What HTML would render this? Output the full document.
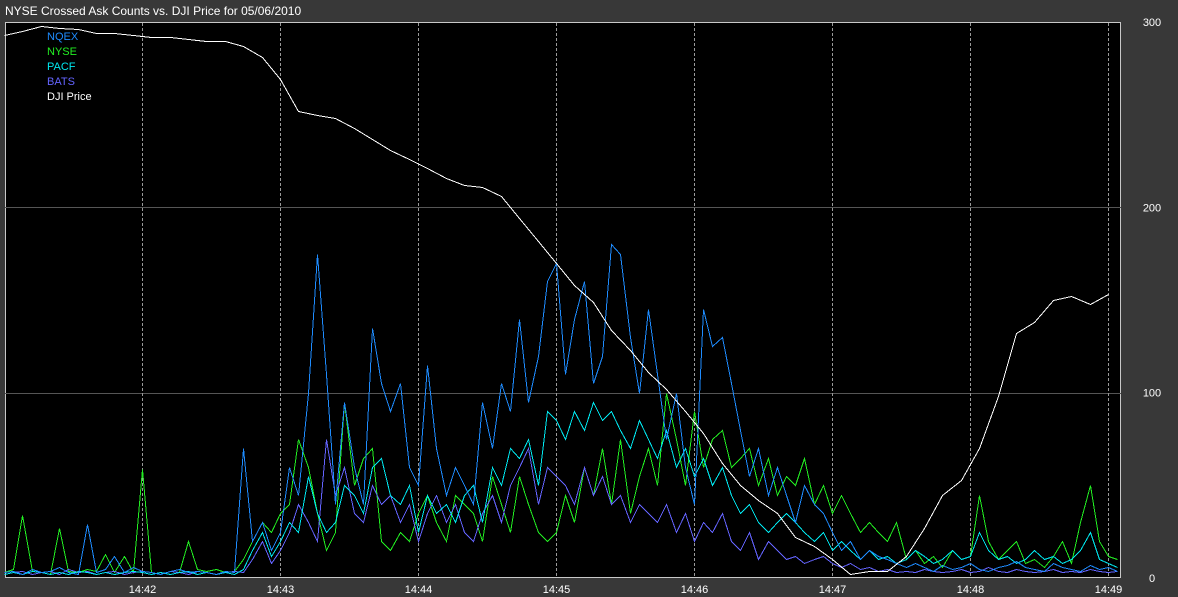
<!DOCTYPE html>
<html><head><meta charset="utf-8"><style>
html,body{margin:0;padding:0;background:#383838;}
body{width:1178px;height:597px;overflow:hidden;font-family:"Liberation Sans",sans-serif;}
</style></head><body>
<svg id="chart" width="1178" height="597" xmlns="http://www.w3.org/2000/svg" style="display:block">
<rect x="0" y="0" width="1178" height="597" fill="#383838"/>
<text x="5" y="15" fill="#ffffff" font-size="12" font-family="Liberation Sans, sans-serif">NYSE Crossed Ask Counts vs. DJI Price for 05/06/2010</text>
<rect x="5.5" y="22.5" width="1115" height="555" fill="#000" stroke="#c8c8c8" stroke-width="1"/>
<g id="grid"></g>
<g id="series"></g>
<g id="axes"></g>
<g font-size="11" font-family="Liberation Sans, sans-serif">
<text x="47" y="40" fill="#1e8cff">NQEX</text>
<text x="47" y="55" fill="#22ee22">NYSE</text>
<text x="47" y="70" fill="#00e8f0">PACF</text>
<text x="47" y="85" fill="#6464ff">BATS</text>
<text x="47" y="100" fill="#ffffff">DJI Price</text>
</g>
</svg>
<script>
const timeTicks = ["14:42","14:43","14:44","14:45","14:46","14:47","14:48","14:49"];
const yTicks = [0,100,200,300];
const countStepSec = 4;
const priceStepSec = 8;
const nqex = [3,4,2,5,3,4,6,3,2,29,3,5,12,3,6,4,3,2,4,5,3,4,3,2,4,3,
70,20,30,15,25,60,45,100,175,110,40,95,60,40,135,105,90,105,60,50,115,70,45,60,50,40,95,70,105,90,140,95,120,160,170,110,140,160,105,120,180,175,130,100,145,110,75,100,60,40,145,125,130,105,80,55,70,45,60,45,30,50,40,35,25,15,20,10,15,12,10,8,6,
8,6,4,7,5,6,8,5,4,6,7,9,6,5,4,8,6,5,4,7,5,6,4];
const nyse = [3,5,34,4,3,2,27,4,3,5,4,13,3,12,3,59,3,2,4,3,20,5,4,5,3,4,
10,20,30,25,35,40,75,60,35,15,25,95,50,65,70,20,15,25,20,35,45,30,20,45,40,35,20,55,40,25,55,40,25,20,25,45,30,60,45,70,40,75,35,55,70,50,100,75,50,90,60,75,80,60,65,70,50,65,45,55,50,65,40,50,35,45,35,25,30,25,20,30,10,15,8,12,6,15,10,12,45,20,10,15,20,8,10,6,12,20,8,30,50,20,12,10];
const pacf = [2,3,2,4,3,2,3,2,4,3,2,3,2,3,4,3,2,3,2,3,4,2,3,2,3,2,
5,15,25,12,20,30,25,55,35,25,30,50,45,35,60,65,45,40,50,25,45,35,40,30,45,50,30,60,50,70,65,75,50,90,85,75,90,80,95,85,90,80,70,85,75,65,80,60,70,55,65,50,60,45,35,40,30,25,30,35,30,25,20,25,15,20,15,10,15,10,12,8,10,15,12,8,10,15,10,12,25,15,10,12,8,10,15,10,12,8,10,15,25,10,8,6];
const bats = [2,3,4,2,3,4,2,5,3,4,2,3,4,2,3,4,3,2,4,3,2,4,3,2,3,4,
3,10,20,8,15,25,40,30,20,75,45,60,35,30,50,40,45,30,40,20,35,45,30,40,25,20,35,45,30,50,60,70,40,60,55,50,40,60,45,55,40,45,30,40,35,30,40,25,35,20,30,25,35,20,15,25,10,20,15,10,12,8,10,12,8,6,8,5,6,4,5,3,
4,3,5,4,3,4,5,3,4,6,4,3,5,4,3,4,5,3,4,3,5,4,3,4];
const djiPrice = [293,295,298,297,296,294,294,293,292,292,291,290,290,287,281,269,252,250,248,243,237,231,226,221,216,212,211,206,194,182,170,158,149,134,123,111,102,90,78,62,50,42,35,22,17,10,2,4,4,12,27,45,53,70,98,132,138,150,152,148,153];

const X0 = 4, PX_PER_SEC = 138/60;
const Y0 = 578, PX_PER_UNIT = 556/300;
function xScale(sec){ return X0 + sec*PX_PER_SEC; }
function yScale(v){ return Y0 - v*PX_PER_UNIT; }
const NS = "http://www.w3.org/2000/svg";
const grid = document.getElementById('grid');
const axes = document.getElementById('axes');
const series = document.getElementById('series');

yTicks.forEach(v => {
  const y = Math.round(yScale(v)) + 0.5;
  if (v > 0 && v < 300) {
    const l = document.createElementNS(NS,'line');
    
    
    l.setAttribute('x1',5); l.setAttribute('x2',1121); l.setAttribute('y1',y); l.setAttribute('y2',y);
    l.setAttribute('stroke','#555'); l.setAttribute('stroke-width','1');
    grid.appendChild(l);
  }
  const t = document.createElementNS(NS,'text');
  
  
  t.setAttribute('x',1152); t.setAttribute('y',yScale(v)+4);
  t.setAttribute('text-anchor','middle'); t.setAttribute('fill','#fff'); t.setAttribute('font-size','11');
  t.textContent = String(v);
  axes.appendChild(t);
});

timeTicks.forEach((lab,i) => {
  const x = Math.round(xScale((i+1)*60)) + 0.5;
  const l = document.createElementNS(NS,'line');
  
  
  l.setAttribute('x1',x); l.setAttribute('x2',x); l.setAttribute('y1',23); l.setAttribute('y2',577);
  l.setAttribute('stroke','#9a9a9a'); l.setAttribute('stroke-dasharray','3,2'); l.setAttribute('stroke-width','1');
  grid.appendChild(l);
  const t = document.createElementNS(NS,'text');
  
  
  t.setAttribute('x',x); t.setAttribute('y',593);
  t.setAttribute('text-anchor','middle'); t.setAttribute('fill','#fff'); t.setAttribute('font-size','11');
  t.textContent = lab;
  axes.appendChild(t);
});

function drawLine(vals, step, color, name){
  const p = document.createElementNS(NS,'polyline');
  
  
  p.setAttribute('points', vals.map((v,i)=>(Math.round(xScale(i*step))+0.5)+','+(Math.round(yScale(v))+0.5)).join(' '));
  p.setAttribute('fill','none'); p.setAttribute('stroke',color); p.setAttribute('stroke-width','1');
  p.setAttribute('shape-rendering','crispEdges');
  series.appendChild(p);
}
drawLine(nyse, countStepSec, '#22ee22', 'nyse-line');
drawLine(bats, countStepSec, '#6464ff', 'bats-line');
drawLine(pacf, countStepSec, '#00e8f0', 'pacf-line');
drawLine(nqex, countStepSec, '#1e8cff', 'nqex-line');
drawLine(djiPrice, priceStepSec, '#ffffff', 'dji-price-line');
</script>
</body></html>
